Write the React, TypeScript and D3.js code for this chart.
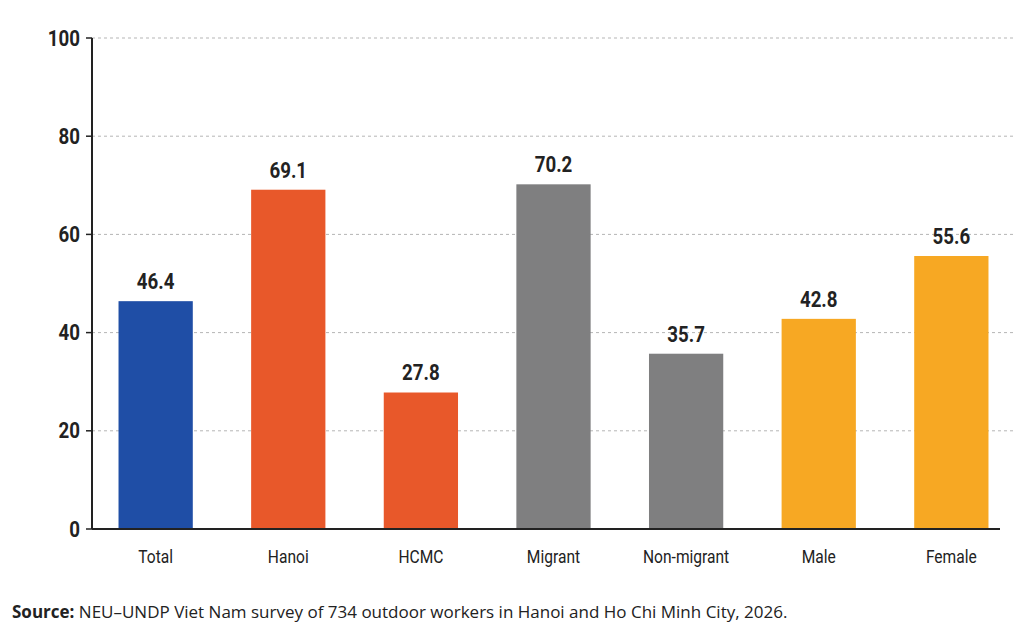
import * as d3 from "d3";

const categories = ["Total", "Hanoi", "HCMC", "Migrant", "Non-migrant", "Male", "Female"];
const values = [46.4, 69.1, 27.8, 70.2, 35.7, 42.8, 55.6];
const colors = ["#1f4ea6", "#e8582a", "#e8582a", "#7f7f80", "#7f7f80", "#f7a823", "#f7a823"];
const yTicks = [0, 20, 40, 60, 80, 100];

export default function App() {
  const width = 1024;
  const height = 643;
  const left = 92;
  const right = 1015;
  const top = 38;
  const bottom = 529;

  const x = d3.scaleBand().domain(categories).range([left, right]).paddingInner(0.44).paddingOuter(0.2);
  const y = d3.scaleLinear().domain([0, 100]).range([bottom, top]);
  const font = "Roboto, 'Liberation Sans', sans-serif";

  return (
    <svg width={width} height={height} style={{ position: "absolute", left: 0, top: 0, background: "#fff" }}>
      {yTicks.map((t) => (
        <g key={t}>
          {t > 0 && (
            <line x1={left} x2={right} y1={y(t)} y2={y(t)} stroke="#b5b5b5" strokeDasharray="3,3" strokeWidth={1} />
          )}
          <line x1={left - 6} x2={left} y1={y(t)} y2={y(t)} stroke="#222" strokeWidth={1.5} />
          <text x={left - 12} y={y(t)} dy="0.35em" textAnchor="end" fontFamily={font} fontWeight={700} fontSize={22} fill="#222" transform={`translate(${left - 12},${y(t)}) scale(0.85,1) translate(${-(left - 12)},${-y(t)})`}>
            {t}
          </text>
        </g>
      ))}
      {categories.map((c, i) => {
        const bx = x(c)!;
        const cx = bx + x.bandwidth() / 2;
        return (
          <g key={c}>
            <rect x={bx} y={y(values[i])} width={x.bandwidth()} height={bottom - y(values[i])} fill={colors[i]} />
            <text x={cx} y={y(values[i]) - 12} textAnchor="middle" fontFamily={font} fontWeight={700} fontSize={22} fill="#222" transform={`translate(${cx},0) scale(0.85,1) translate(${-cx},0)`}>
              {values[i].toFixed(1)}
            </text>
            <text x={cx} y={bottom + 34} textAnchor="middle" fontFamily={font} fontSize={19} fill="#222" transform={`translate(${cx},0) scale(0.82,1) translate(${-cx},0)`}>
              {c}
            </text>
          </g>
        );
      })}
      <line x1={left} x2={left} y1={top} y2={bottom} stroke="#222" strokeWidth={2} />
      <line x1={left} x2={1000} y1={bottom} y2={bottom} stroke="#222" strokeWidth={2} />
      <text x={12} y={618} fontFamily="'Open Sans', 'DejaVu Sans', sans-serif" fontSize={17} fill="#222">
        <tspan fontWeight={700}>Source:</tspan> NEU–UNDP Viet Nam survey of 734 outdoor workers in Hanoi and Ho Chi Minh City, 2026.
      </text>
    </svg>
  );
}
